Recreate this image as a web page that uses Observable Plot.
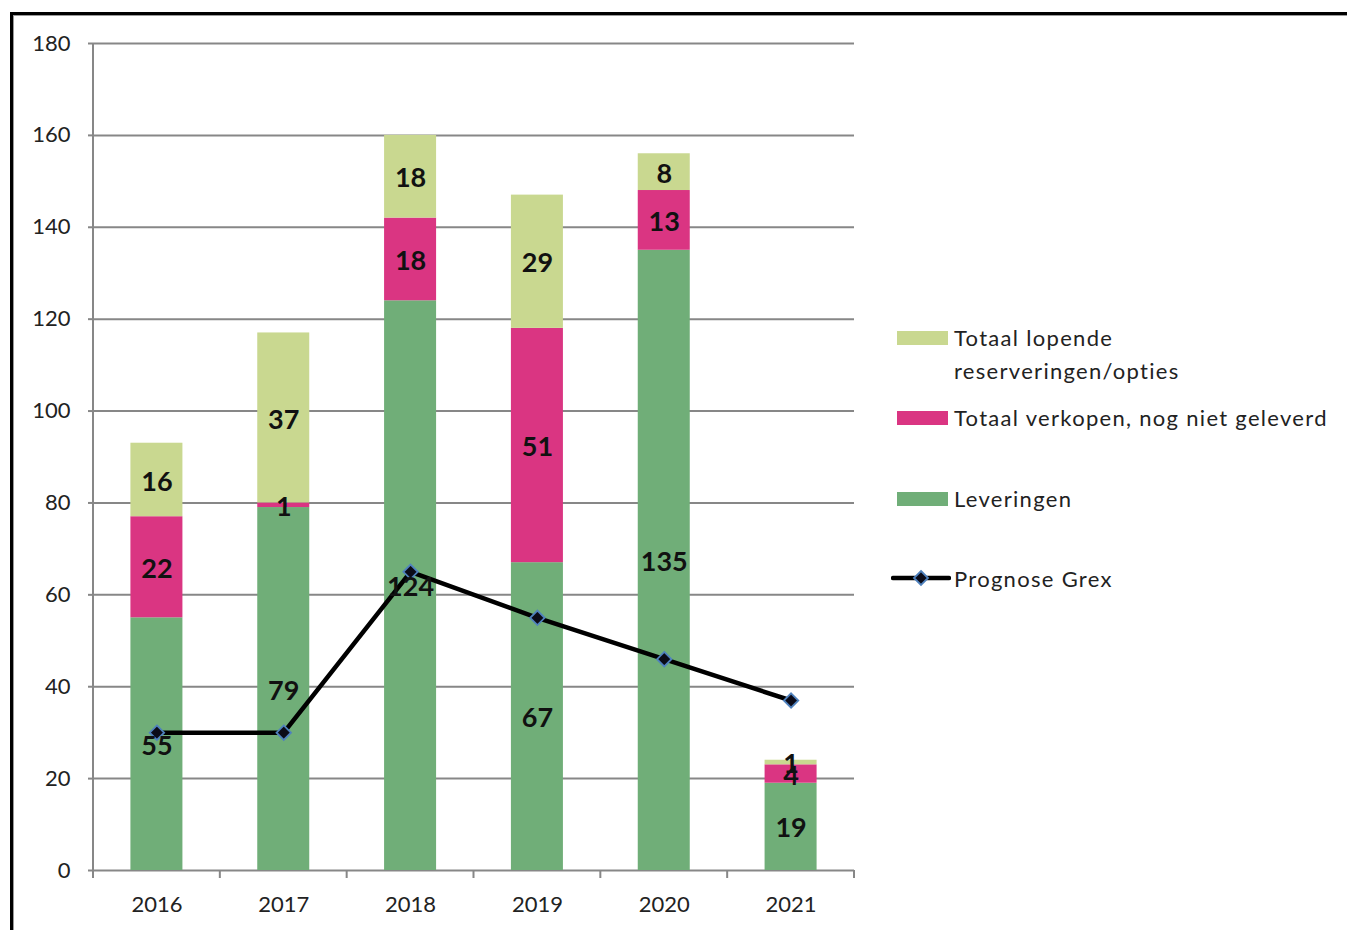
<!DOCTYPE html>
<html><head><meta charset="utf-8">
<script src="https://cdn.jsdelivr.net/npm/d3@7"></script>
<script src="https://cdn.jsdelivr.net/npm/@observablehq/plot@0.6"></script>
<style>
body{margin:0;background:#fff;font-family:Lato,"Open Sans",sans-serif;}
#wrap{position:relative;width:1347px;height:930px;overflow:hidden;}
#frame{position:absolute;left:10px;top:12px;width:1400px;height:1000px;border-left:3px solid #000;border-top:3px solid #000;box-shadow:inset 1px 1px 0 #9a9a9a;}
#chart{position:absolute;left:0;top:0;}
.sw{position:absolute;left:897px;width:51px;height:14px;}
.lt{position:absolute;left:954px;font-size:22px;line-height:33px;letter-spacing:1.3px;color:#222;white-space:nowrap;}
</style>
</head><body>
<div id="wrap">
  <div id="frame"></div>
  <div id="chart"></div>
  <div id="legend"></div>
</div>
<script>
const years = ["2016","2017","2018","2019","2020","2021"];
const leveringen = [55,79,124,67,135,19];
const verkopen = [22,1,18,51,13,4];
const reserveringen = [16,37,18,29,8,1];
const prognose = [30,30,65,55,46,37];
const yTicks = [0,20,40,60,80,100,120,140,160,180];
const seriesNames = ["Leveringen","Totaal verkopen, nog niet geleverd","Totaal lopende reserveringen/opties"];
const seriesColors = ["#70ae78","#da3582","#c9d890"];
const lineName = "Prognose Grex";

const seriesValues = [leveringen, verkopen, reserveringen];
const rows = [];
seriesNames.forEach((s,k)=>years.forEach((y,i)=>rows.push({year:y, series:s, value:seriesValues[k][i]})));
const lineRows = years.map((y,i)=>({year:y, value:prognose[i]}));

const axisFrame = (index, scales) => {
  const x = scales.x, y = scales.y;
  const bw = typeof x.bandwidth === "function" ? x.bandwidth() : x.bandwidth;
  const step = x(years[1]) - x(years[0]);
  const edges = years.map(d => x(d) + bw/2 - step/2);
  edges.push(x(years[years.length-1]) + bw/2 + step/2);
  const g = d3.create("svg:g").attr("stroke","#878787").attr("stroke-width",2);
  g.selectAll("line.t").data(edges).join("line")
    .attr("x1",d=>d).attr("x2",d=>d).attr("y1",y(0)).attr("y2",y(0)+8);
  g.append("line").attr("x1",edges[0]).attr("x2",edges[0]).attr("y1",y(0)).attr("y2",y(yTicks[yTicks.length-1]));
  return g.node();
};

const plot = Plot.plot({
  width: 880, height: 930,
  marginLeft: 93, marginRight: 26, marginTop: 43, marginBottom: 60,
  style: {fontFamily: "Lato, 'Open Sans', sans-serif", background: "transparent"},
  x: {domain: years, paddingInner: 0.59, paddingOuter: 0.295, round: false, axis: null},
  y: {domain: [0,180], axis: null},
  color: {domain: seriesNames, range: seriesColors},
  marks: [
    Plot.gridY(yTicks, {stroke:"#878787", strokeOpacity:1, strokeWidth:2}),
    Plot.axisY(yTicks, {tickSize:5, tickPadding:18, fontSize:22, stroke:"#878787", strokeWidth:2, fill:"#222", label:null}),
    Plot.axisX({tickSize:0, tickPadding:26, fontSize:22, fill:"#222", label:null}),
    Plot.barY(rows, {x:"year", y:"value", fill:"series"}),
    axisFrame,
    Plot.line(lineRows, {x:"year", y:"value", stroke:"#000", strokeWidth:4.5}),
    Plot.dot(lineRows, {x:"year", y:"value", symbol:"diamond2", r:6.5, fill:"#0b0b18", stroke:"#4f81bd", strokeWidth:1.8}),
    Plot.text(rows, Plot.stackY({x:"year", y:"value", text:"value", fontSize:27, fontWeight:"bold", fill:"#111", dy:2}))
  ]
});
document.getElementById("chart").appendChild(plot);

// legend
const legend = document.getElementById("legend");
const items = [
  {color: seriesColors[2], top: 331, textTop: 321, html: "Totaal lopende<br>reserveringen/opties"},
  {color: seriesColors[1], top: 411, textTop: 401, html: seriesNames[1]},
  {color: seriesColors[0], top: 492, textTop: 482, html: seriesNames[0]}
];
items.forEach(it => {
  const sw = document.createElement("div");
  sw.className = "sw"; sw.style.top = it.top + "px"; sw.style.background = it.color;
  legend.appendChild(sw);
  const t = document.createElement("div");
  t.className = "lt"; t.style.top = it.textTop + "px"; t.innerHTML = it.html;
  legend.appendChild(t);
});
const ls = document.createElementNS("http://www.w3.org/2000/svg","svg");
ls.setAttribute("width","60"); ls.setAttribute("height","20");
ls.style.position = "absolute"; ls.style.left = "891px"; ls.style.top = "568px";
ls.innerHTML = '<line x1="2" x2="58" y1="10" y2="10" stroke="#000" stroke-width="4.5" stroke-linecap="round"/>' +
  '<path d="M30,3 L37,10 L30,17 L23,10 Z" fill="#0b0b18" stroke="#4f81bd" stroke-width="1.8"/>';
legend.appendChild(ls);
const lt = document.createElement("div");
lt.className = "lt"; lt.style.top = "562px"; lt.textContent = lineName;
legend.appendChild(lt);
</script>
</body></html>
